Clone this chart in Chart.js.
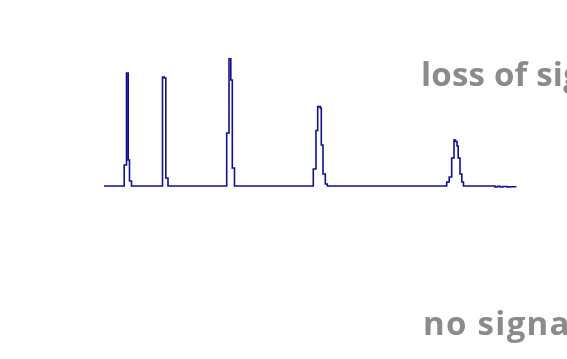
<!DOCTYPE html>
<html>
<head>
<meta charset="utf-8">
<script src="https://cdn.jsdelivr.net/npm/chart.js@4"></script>
<style>
  html, body { margin: 0; padding: 0; background: #ffffff; }
  #wrap { position: relative; width: 567px; height: 359px; overflow: hidden; }
  #chart { position: absolute; left: 0; top: 0; }
  .note {
    position: absolute;
    font-family: "Open Sans", Lato, sans-serif;
    font-weight: 700;
    font-size: 33px;
    color: #8b8b8b;
    white-space: nowrap;
    line-height: 1;
  }
  #noteTop { letter-spacing: 0.2px; }
  #noteBottom { letter-spacing: 1.3px; }
</style>
</head>
<body>
<div id="wrap">
  <canvas id="chart" width="567" height="359"></canvas>
  <div class="note" id="noteTop">loss of signal</div>
  <div class="note" id="noteBottom">no signal</div>
</div>
<script>
// Retention time (min) at each detector step
const retentionTime = [
  0.000,
  0.979, 1.091, 1.173, 1.236, 1.333,
  2.836, 2.924, 2.996, 3.103,
  5.949, 6.061, 6.148, 6.221, 6.327,
  10.148, 10.279, 10.361, 10.487, 10.536, 10.618, 10.730, 10.827,
  16.616, 16.737, 16.858, 16.970, 17.042, 17.115, 17.173, 17.261, 17.348, 17.430,
  18.958, 19.079, 19.200, 19.345, 19.539, 19.685, 20.000
];

// Detector response (mAU) from each step onward
const response = [
  0,
  164, 883, 203, 39, 0,
  852, 844, 62, 0,
  414, 1000, 828, 141, 0,
  133, 434, 620, 609, 320, 94, 16, 0,
  31, 70, 219, 359, 348, 313, 219, 94, 31, 0,
  -8, -2, -8, -4, -8, -6, -8
];

const axisRange = { tMin: 0, tMax: 20, yMin: -100, yMax: 1000 };

const points = retentionTime.map((t, i) => ({ x: t, y: response[i] }));

new Chart(document.getElementById('chart'), {
  type: 'line',
  data: {
    datasets: [{
      data: points,
      borderColor: '#10108a',
      borderWidth: 1.6,
      pointRadius: 0,
      stepped: 'before',
      fill: false
    }]
  },
  options: {
    responsive: false,
    animation: false,
    layout: { padding: { left: 104, right: 50.5, top: 58, bottom: 160.2 } },
    plugins: { legend: { display: false }, tooltip: { enabled: false } },
    scales: {
      x: { type: 'linear', min: axisRange.tMin, max: axisRange.tMax, display: false },
      y: { min: axisRange.yMin, max: axisRange.yMax, display: false }
    }
  }
});

// place the two notes by their baselines
function placeNote(el, left, baseline) {
  el.style.left = left + 'px';
  const probe = document.createElement('span');
  probe.style.display = 'inline-block';
  probe.style.width = '0';
  probe.style.height = '0';
  probe.style.verticalAlign = 'baseline';
  el.appendChild(probe);
  const top = probe.offsetTop;
  el.removeChild(probe);
  el.style.top = (baseline - top) + 'px';
}
placeNote(document.getElementById('noteTop'), 421, 86);
placeNote(document.getElementById('noteBottom'), 423, 335);
</script>
</body>
</html>
